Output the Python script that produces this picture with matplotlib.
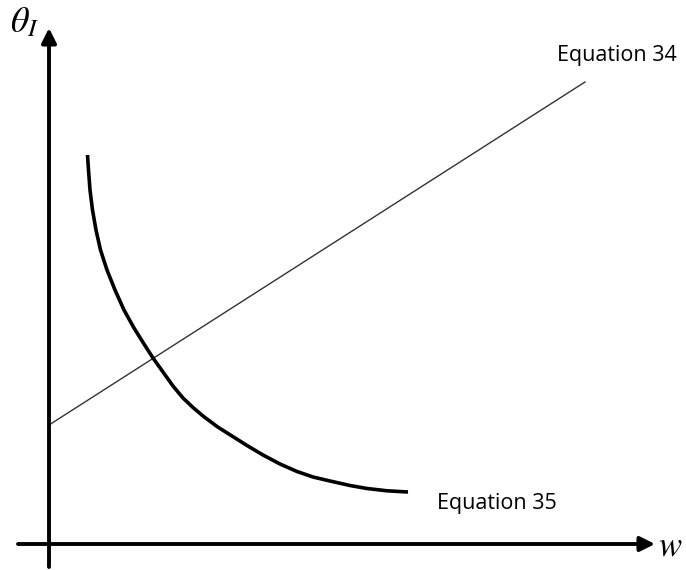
import matplotlib
matplotlib.use('Agg')
import matplotlib.pyplot as plt

plt.rcParams['mathtext.fontset'] = 'stix'

# Equation 35 curve
w35 = [0.385, 0.395, 0.41, 0.435, 0.47, 0.515, 0.58, 0.66, 0.75, 0.85, 0.95, 1.04,
       1.14, 1.24, 1.34, 1.44, 1.54, 1.68, 1.79, 1.98, 2.14, 2.31, 2.48, 2.64,
       2.81, 3.01, 3.18, 3.38, 3.59]
th35 = [3.89, 3.74, 3.54, 3.34, 3.14, 2.94, 2.74, 2.54, 2.34, 2.16, 2.00, 1.86,
        1.72, 1.58, 1.46, 1.365, 1.28, 1.175, 1.105, 0.985, 0.89, 0.80, 0.725, 0.67,
        0.63, 0.585, 0.555, 0.532, 0.52]

# Equation 34 straight line (end points)
w34 = [0.0, 5.36]
th34 = [1.19, 4.62]

fig = plt.figure(figsize=(6.86, 5.70), dpi=100)
ax = fig.add_axes([0, 0, 1, 1])
ax.set_xlim(-0.49, 6.37)
ax.set_ylim(-0.26, 5.44)
ax.axis('off')

# axes with arrow heads
arr = dict(arrowstyle='-|>', lw=2.8, color='black', mutation_scale=22,
           shrinkA=0, shrinkB=0)
ax.annotate('', xy=(0, 5.16), xytext=(0, -0.23), arrowprops=arr)
ax.annotate('', xy=(6.06, 0), xytext=(-0.31, 0), arrowprops=arr)

ax.plot(w34, th34, color='#333333', lw=1.0)
ax.plot(w35, th35, color='black', lw=2.6, solid_capstyle='butt', solid_joinstyle='round')

ax.text(-0.39, 5.22, r'$\theta_I$', fontsize=26, va='center', ha='left')
ax.text(6.09, -0.01, r'$w$', fontsize=25, va='center', ha='left')
ax.text(5.08, 4.88, 'Equation 34', fontsize=15.5, family='Open Sans', va='center', ha='left')
ax.text(3.88, 0.41, 'Equation 35', fontsize=15.5, family='Open Sans', va='center', ha='left')

fig.savefig('out.png', dpi=100)
